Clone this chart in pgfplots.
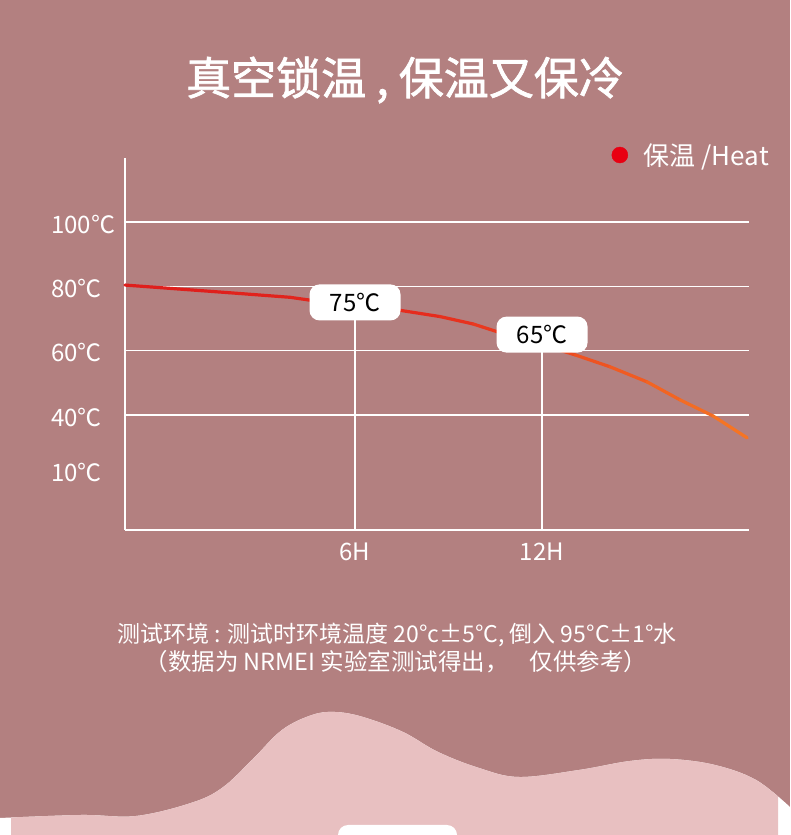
\documentclass[border=0pt]{standalone}
\usepackage{pgfplots}
\pgfplotsset{compat=1.18}
\usepackage{fontspec}
\setmainfont{Noto Sans CJK SC}
\newfontfamily\titlefont{Noto Sans CJK SC}[FakeBold=1.6]
\definecolor{bgmauve}{RGB}{179,128,128}
\definecolor{wavepink}{RGB}{232,192,193}
\definecolor{dotred}{RGB}{232,0,18}

\begin{document}
\begin{tikzpicture}
\useasboundingbox (0pt,0pt) rectangle (790pt,835pt);
\begin{scope}
  \clip (0pt,0pt) rectangle (790pt,835pt);
  \fill[bgmauve] (0pt,0pt) rectangle (790pt,835pt);
  % page decoration, y measured downward from the top edge
  \begin{scope}[x=1pt, y=-1pt, shift={(0pt,835pt)}]
    \def\wave{plot[smooth, tension=0.6] coordinates {(0,818) (81,815) (136,816) (191,803) (222,788) (252,760) (282,730) (312,715) (335,712) (363,717) (403,732) (438,752) (479,768) (519,777) (579,770) (630,761) (670,759) (715,765) (756,780) (790,807)} -- (790,850) -- (0,850) -- cycle}
    \fill[white] \wave;
    \begin{scope}
      \clip (11,690) rectangle (778,850);
      \fill[wavepink] \wave;
    \end{scope}
    \fill[white, rounded corners=10pt] (338,825) rectangle (457,870);
    \node[text=white, font=\fontsize{45}{50}\titlefont] at (405,80) {真空锁温 , 保温又保冷};
    \node[text=white, font=\fontsize{23}{27}\selectfont] at (397,635) {测试环境 : 测试时环境温度 20°c±5°C, 倒入 95°C±1°水};
    \node[text=white, font=\fontsize{23.5}{27}\selectfont] at (396,662) {（数据为 NRMEI 实验室测试得出，\ \ \ \ 仅供参考）};
  \end{scope}
\end{scope}

\begin{axis}[
  at={(125pt,305pt)}, anchor=south west,
  scale only axis, width=624pt, height=372pt,
  xmin=-1.38, xmax=18.64, ymin=4.26, ymax=119.9,
  clip=false,
  axis lines*=left,
  axis line style={white, line width=1.5pt, -},
  xtick={6,12}, xticklabels={6H,12H},
  ytick={40,60,80,100}, yticklabels={40℃,60℃,80℃,100℃},
  extra y ticks={22.6}, extra y tick labels={10℃},
  extra y tick style={grid=none},
  ymajorgrids, grid style={white, line width=1.5pt},
  major tick length=0pt,
  /pgf/number format/assume math mode=true,
  tick label style={text=white, font=\fontsize{24}{28}\selectfont, inner sep=0pt},
  yticklabel style={anchor=west, xshift=-74pt, yshift=-2pt},
  xticklabel style={anchor=north, yshift=-13pt},
  colormap={curvegrad}{rgb255=(222,28,28) rgb255=(230,45,30) rgb255=(246,120,36)},
  legend style={at={(1.0353,1.008)}, anchor=east, draw=none, fill=none,
    text=white, font=\fontsize{26}{30}\selectfont, inner sep=0pt},
  legend cell align=left,
]
\addlegendimage{only marks, mark=*, mark size=8pt, draw=dotred, fill=dotred}
\addlegendentry{\hspace{14pt}保温 /Heat}

% drop lines under the value labels
\draw[white, line width=1.5pt] (6,75) -- (6,4.26);
\draw[white, line width=1.5pt] (12,65) -- (12,4.26);

% heat retention curve
\addplot[mesh, point meta=x, line width=3.2pt, line cap=round, forget plot] coordinates {
  (-1.38,80.4) (1.99,78.0) (3.91,76.6) (4.49,75.8) (6.0,74.2) (7.41,72.6)
  (8.73,70.6) (9.79,68.3) (10.56,65.9) (12.0,61.8) (13.06,58.7) (14.18,55.0)
  (15.37,50.3) (16.43,44.7) (17.49,39.7) (18.58,32.9)
};

\node[fill=white, rounded corners=10pt, minimum width=91pt, minimum height=36pt,
  inner sep=0pt, text=black, font=\fontsize{24}{28}\selectfont] at (6,75) {75℃};
\node[fill=white, rounded corners=10pt, minimum width=91pt, minimum height=36pt,
  inner sep=0pt, text=black, font=\fontsize{24}{28}\selectfont] at (12,65) {65℃};
\end{axis}
\end{tikzpicture}
\end{document}
